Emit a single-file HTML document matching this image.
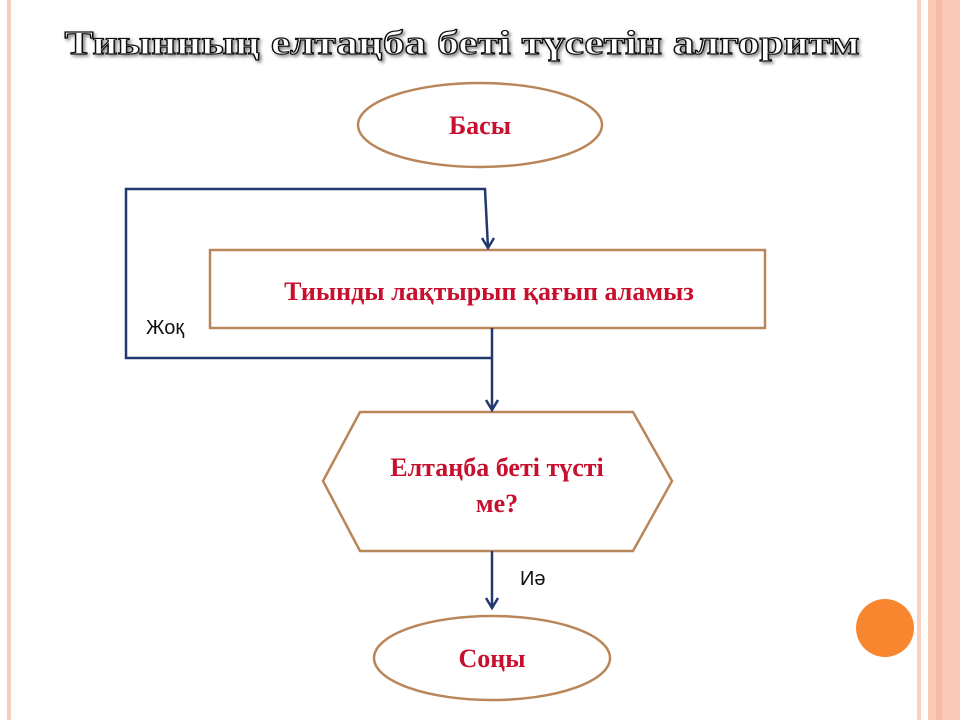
<!DOCTYPE html>
<html><head><meta charset="utf-8"><style>
body{margin:0;width:960px;height:720px;background:#fff;overflow:hidden;position:relative;font-family:"Liberation Serif",serif}
</style></head><body>
<div style="position:absolute;left:7px;top:0;width:4px;height:720px;background:#f6cdb8"></div>
<div style="position:absolute;left:917px;top:0;width:4px;height:720px;background:#f8cfc0"></div>
<div style="position:absolute;left:928px;top:0;width:32px;height:720px;background:#fcc8b8"></div>
<div style="position:absolute;left:936px;top:0;width:6px;height:720px;background:#f8bba8"></div>
<svg width="960" height="720" style="position:absolute;left:0;top:0">
<defs><filter id="sh"><feDropShadow dx="2" dy="2" stdDeviation="1.5" flood-color="#888"/></filter></defs>
<text x="462" y="54" text-anchor="middle" font-family="Liberation Serif" font-weight="bold" font-size="34" fill="#fff" stroke="#111" stroke-width="1.2" filter="url(#sh)" textLength="795" lengthAdjust="spacingAndGlyphs">Тиынның елтаңба беті түсетін алгоритм</text>
<g fill="#fff" stroke="#b9865a" stroke-width="2.5">
<ellipse cx="480" cy="125" rx="122" ry="42"/>
<rect x="210" y="250" width="555" height="78"/>
<polygon points="360,412 633,412 672,481 633,551 360,551 323,481"/>
<ellipse cx="492" cy="658" rx="118" ry="42"/>
</g>
<g fill="none" stroke="#22386e" stroke-width="2.5">
<polyline points="492,358 126,358 126,189 485,189 488,248"/>
<polyline points="482,238 488,248 494,238"/>
<line x1="492" y1="328" x2="492" y2="410"/>
<polyline points="486,400 492,410 498,400"/>
<line x1="492" y1="551" x2="492" y2="608"/>
<polyline points="486,598 492,608 498,598"/>
</g>
<circle cx="885" cy="628" r="29" fill="#f7862f"/>
<g font-family="Liberation Serif" font-weight="bold" fill="#c8102e" text-anchor="middle" font-size="26">
<text x="480" y="134">Басы</text>
<text x="489" y="300">Тиынды лақтырып қағып аламыз</text>
<text x="497" y="476">Елтаңба беті түсті</text>
<text x="497" y="512">ме?</text>
<text x="492" y="667">Соңы</text>
</g>
<g font-family="Liberation Sans" font-size="20" fill="#111">
<text x="146" y="334">Жоқ</text>
<text x="520" y="585">Иә</text>
</g>
</svg>
</body></html>
